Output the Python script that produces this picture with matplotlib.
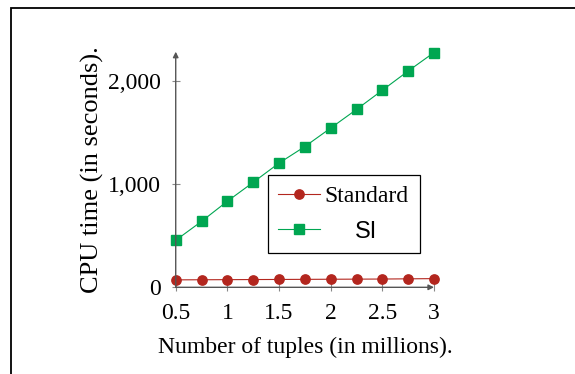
import matplotlib
matplotlib.use("Agg")
import matplotlib.pyplot as plt
from matplotlib.patches import Rectangle
from matplotlib.ticker import FuncFormatter

# Data
tuples_millions = [0.5, 0.75, 1.0, 1.25, 1.5, 1.75, 2.0, 2.25, 2.5, 2.75, 3.0]
standard_time = [72, 73, 74, 75, 76, 77, 78, 79, 80, 82, 84]
si_time = [455, 638, 833, 1016, 1202, 1362, 1541, 1721, 1907, 2093, 2272]

x_ticks = [0.5, 1, 1.5, 2, 2.5, 3]
y_ticks = [0, 1000, 2000]

red = "#b3261e"
green = "#00a651"
serif = "Liberation Serif"
fs = 17

fig = plt.figure(figsize=(5.75, 3.74), dpi=100)
ax = fig.add_axes([0.3056, 0.2318, 0.4492, 0.630])

ax.plot(tuples_millions, standard_time, color=red, marker="o", markersize=6.7,
        linewidth=0.8, label="Standard", clip_on=False, zorder=3)
ax.plot(tuples_millions, si_time, color=green, marker="s", markersize=6.7,
        linewidth=0.8, label="SI", clip_on=False, zorder=3)

ax.set_xlim(0.5, 3)
ax.set_ylim(0, 2280)
ax.set_xticks(x_ticks)
ax.set_yticks(y_ticks)
ax.xaxis.set_major_formatter(FuncFormatter(lambda v, p: f"{v:g}"))
ax.yaxis.set_major_formatter(FuncFormatter(lambda v, p: f"{int(v):,}"))

for s in ["top", "right", "left", "bottom"]:
    ax.spines[s].set_visible(False)
axis_col = "#555555"
ax.annotate("", xy=(1, 0), xytext=(0, 0), xycoords="axes fraction",
            arrowprops=dict(arrowstyle="-|>", lw=1.0, color=axis_col,
                            mutation_scale=8, shrinkA=0, shrinkB=0))
ax.annotate("", xy=(0, 1), xytext=(0, 0), xycoords="axes fraction",
            arrowprops=dict(arrowstyle="-|>", lw=1.0, color=axis_col,
                            mutation_scale=8, shrinkA=0, shrinkB=0))

ax.tick_params(direction="inout", length=6, width=0.8, color="#888888",
               labelsize=fs)
ax.tick_params(axis="x", pad=8.5)
ax.tick_params(axis="y", pad=8)
for lab in ax.get_xticklabels() + ax.get_yticklabels():
    lab.set_fontfamily(serif)

ax.set_xlabel("Number of tuples (in millions).", fontsize=fs, family=serif, labelpad=9)
ax.set_ylabel("CPU time (in seconds).", fontsize=19, family=serif, labelpad=2.5)

leg = ax.legend(loc="upper left", bbox_to_anchor=(0.356, 0.151, 0.59, 0.326),
                mode="expand", borderaxespad=0,
                fancybox=False, edgecolor="black", framealpha=1,
                prop={"family": serif, "size": fs}, handlelength=1.75,
                handletextpad=0.2, borderpad=0.45, labelspacing=0.6)
leg.get_frame().set_linewidth(0.9)

# centre the "SI" entry under "Standard", as in the original legend
fig.canvas.draw()
r = fig.canvas.get_renderer()
t_std, t_si = leg.get_texts()
b_std = t_std.get_window_extent(r)
b_si = t_si.get_window_extent(r)
t_si.set_alpha(0)
cx = (b_std.x0 + b_std.x1) / 2
cy = (b_si.y0 + b_si.y1) / 2
fig.text(cx / fig.dpi / 5.75, cy / fig.dpi / 3.74, "SI", ha="center", va="center",
         fontsize=fs, family="Liberation Sans", zorder=10)

# page frame
fig.patches.append(Rectangle((11 / 575, -0.1), 1.2, 1.1 - 8 / 374,
                             transform=fig.transFigure, fill=False,
                             edgecolor="black", linewidth=1.3))

fig.savefig("out.png", dpi=100)
